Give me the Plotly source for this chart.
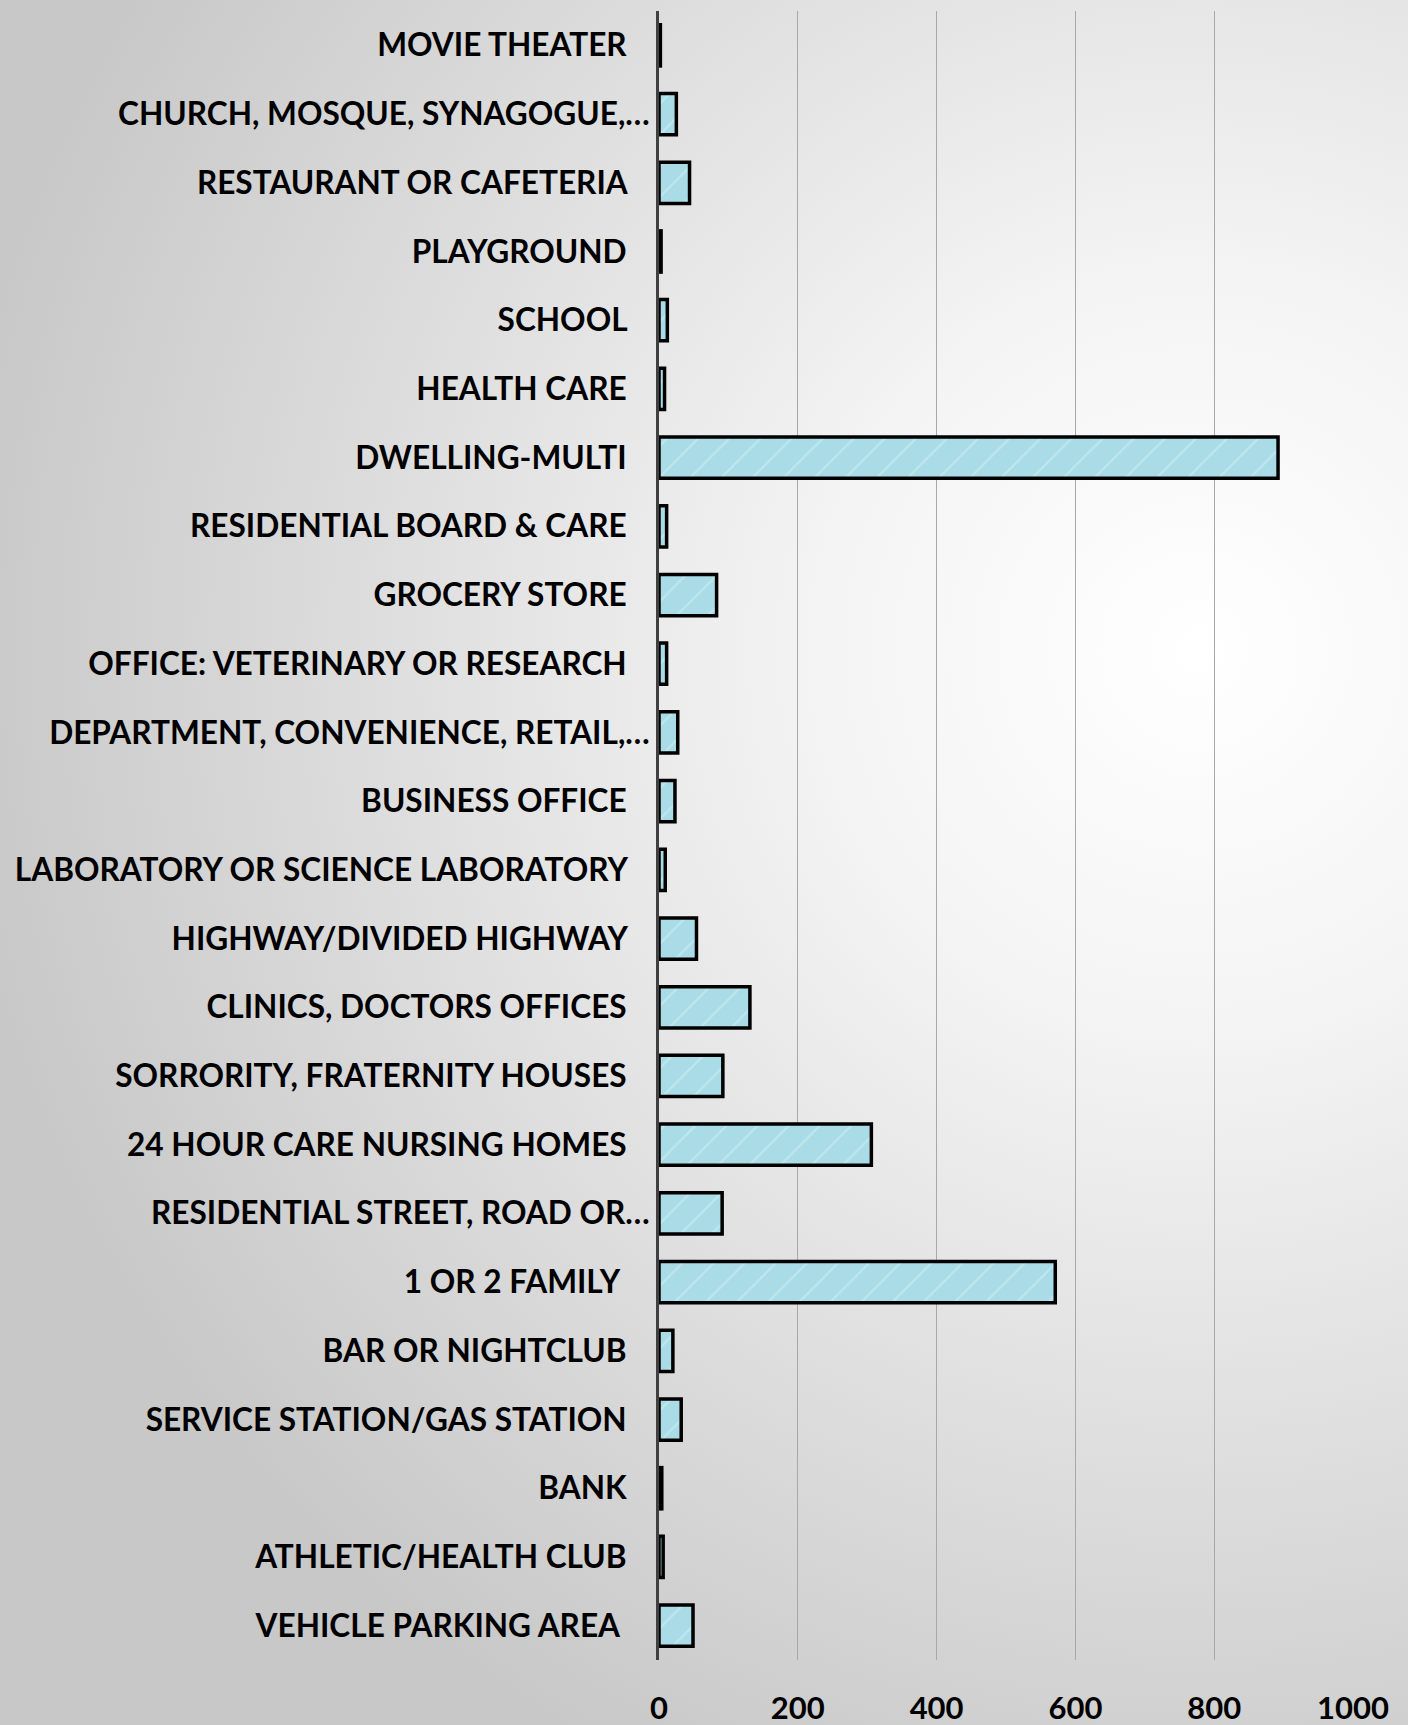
import base64
import plotly.graph_objects as go

categories = [
    "MOVIE THEATER", "CHURCH, MOSQUE, SYNAGOGUE,…", "RESTAURANT OR CAFETERIA",
    "PLAYGROUND", "SCHOOL", "HEALTH CARE", "DWELLING-MULTI",
    "RESIDENTIAL BOARD & CARE", "GROCERY STORE", "OFFICE: VETERINARY OR RESEARCH",
    "DEPARTMENT, CONVENIENCE, RETAIL,…", "BUSINESS OFFICE",
    "LABORATORY OR SCIENCE LABORATORY", "HIGHWAY/DIVIDED HIGHWAY",
    "CLINICS, DOCTORS OFFICES", "SORRORITY, FRATERNITY HOUSES",
    "24 HOUR CARE NURSING HOMES", "RESIDENTIAL STREET, ROAD OR…",
    "1 OR 2 FAMILY ", "BAR OR NIGHTCLUB", "SERVICE STATION/GAS STATION",
    "BANK", "ATHLETIC/HEALTH CLUB", "VEHICLE PARKING AREA ",
]
values = [2, 25, 44, 3, 12, 8, 892, 11, 83, 11, 27, 23, 9, 54, 131, 92, 306,
          91, 571, 20, 32, 4, 6, 49]
x_ticks = [0, 200, 400, 600, 800, 1000]

W, H = 1408, 1725
ML, MR, MT, MB = 659, 55, 11, 65
PW, PH = W - ML - MR, H - MT - MB

NB = "\u00a0"
def pad(lbl):
    if lbl.endswith("…"):
        return lbl
    extra = 1 if lbl.endswith(" ") else 0
    return lbl.rstrip() + NB * (3 + extra)

ticktext = [pad(c) for c in categories]

E = 40  # bleed so the background covers the whole page
BW, BH = W + 2 * E, H + 2 * E
svg = f'''<svg xmlns="http://www.w3.org/2000/svg" width="{BW}" height="{BH}" preserveAspectRatio="none">
<defs><radialGradient id="g" gradientUnits="userSpaceOnUse" cx="{E + 1200}" cy="{E + 650}" r="1250">
<stop offset="0" stop-color="#ffffff"/><stop offset="0.3" stop-color="#f4f4f4"/>
<stop offset="1" stop-color="#c8c8c8"/></radialGradient></defs>
<rect width="{BW}" height="{BH}" fill="url(#g)"/></svg>'''
bg_uri = "data:image/svg+xml;base64," + base64.b64encode(svg.encode()).decode()

fig = go.Figure(go.Bar(
    x=values, y=categories, orientation="h",
    marker=dict(color="#b2e2ea", line=dict(color="#000000", width=3.5),
                pattern=dict(shape="/", fgcolor="#d6f1f5", bgcolor="#a9dce6",
                             size=22, solidity=0.1)),
    width=0.6,
))

fig.update_layout(
    width=W, height=H,
    margin=dict(l=ML, r=MR, t=MT, b=MB, pad=0, autoexpand=False),
    paper_bgcolor="#d8d8d8",
    plot_bgcolor="rgba(0,0,0,0)",
    showlegend=False,
    font=dict(family="Lato", color="#000000"),
    images=[dict(source=bg_uri, xref="paper", yref="paper",
                 x=-(ML + E) / PW, y=1 + (MT + E) / PH,
                 sizex=BW / PW, sizey=BH / PH,
                 xanchor="left", yanchor="top", sizing="stretch", layer="below")],
    xaxis=dict(range=[0, 1000], tickvals=x_ticks, showgrid=True, automargin=False,
               gridcolor="#a8a8a8", gridwidth=1, zeroline=False, showline=False,
               tickfont=dict(size=31, family="Lato", weight="bold", color="#000"),
               ticklabelstandoff=27),
    yaxis=dict(categoryorder="array", categoryarray=categories, automargin=False,
               tickmode="array", tickvals=categories, ticktext=ticktext,
               autorange="reversed", showgrid=False, showline=True,
               linecolor="#404040", linewidth=3,
               tickfont=dict(size=31.6, family="Lato", weight="bold", color="#000"),
               ticklabelstandoff=0),
)

fig.write_html("out.html", config={"displayModeBar": False},
               post_script="document.body.style.margin='0';"
                           "document.body.style.overflow='hidden';")
